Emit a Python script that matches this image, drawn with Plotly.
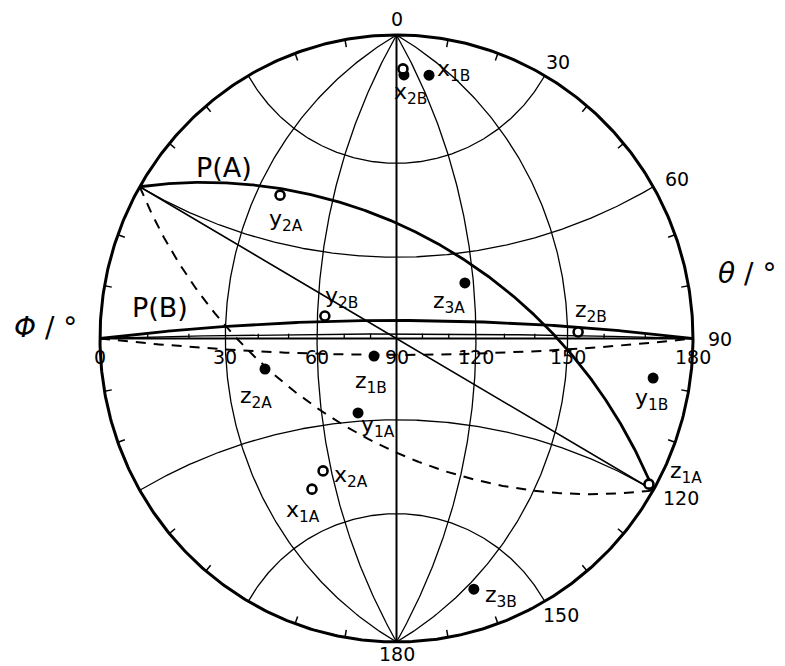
import numpy as np
import plotly.graph_objects as go

# ---------------- data (degrees) ----------------
rim_theta_labels = [0, 30, 60, 90, 120, 150, 180]
equator_phi_labels = [0, 30, 60, 90, 120, 150, 180]
net_phi = [30, 60, 90, 120, 150]
net_theta = [30, 60, 90, 120, 150]

filled_names = ["x1B", "x2B*", "z3A", "z2A", "z1B", "y1A", "y1B", "z3B"]
filled_theta = [10.5, 8.2, 70.3, 99.6, 96.6, 117.1, 98.5, 160.7]
filled_phi = [133.0, 101.6, 116.8, 41.8, 81.3, 74.3, 172.3, 154.4]

open_names = ["x2B", "y2A", "y2B", "z2B", "x2A", "x1A", "z1A"]
open_theta = [6.9, 46.7, 82.0, 88.2, 134.2, 138.4, 119.4]
open_phi = [101.7, 38.4, 62.7, 153.0, 56.5, 49.7, 178.5]

# great circles: common axis (theta, phi) and rotation about that axis
planeA_axis = (60.0, 0.0)
planeA_tilt = 37.6        # P(A)
planeA_dash_tilt = -37.2  # dashed
planeA_line_tilt = 0.0    # straight diameter
planeB_axis = (90.0, 0.0)
planeB_tilt = 6.8         # P(B)
planeB_thin_tilt = 1.7
planeB_dash_tilt = -6.2

# ---------------- geometry (Wulff net, stereographic) ----------------
def vec(theta, phi):
    t, p = np.radians(theta), np.radians(phi)
    return np.array([-np.sin(t) * np.cos(p), np.sin(t) * np.sin(p), np.cos(t)])

def proj(u, v, w):
    return u / (1 + v), w / (1 + v)

def great_circle(axis_tp, tilt, n=500):
    a = vec(*axis_tp)
    e1 = np.array([0.0, 1.0, 0.0])
    e2 = np.array([a[2], 0.0, -a[0]])
    ps = np.radians(tilt)
    b = np.cos(ps) * e1 + np.sin(ps) * e2
    t = np.linspace(0, np.pi, n)
    pts = np.outer(np.cos(t), a) + np.outer(np.sin(t), b)
    return proj(pts[:, 0], pts[:, 1], pts[:, 2])

def meridian(phi, n=300):
    th = np.linspace(0, 180, n)
    p = np.array([vec(t, phi) for t in th])
    return proj(p[:, 0], p[:, 1], p[:, 2])

def parallel(theta, n=300):
    ph = np.linspace(0, 180, n)
    p = np.array([vec(theta, f) for f in ph])
    return proj(p[:, 0], p[:, 1], p[:, 2])

def proj_tp(theta, phi):
    x, y = [], []
    for t, f in zip(theta, phi):
        u, v, w = vec(t, f)
        X, Y = proj(u, v, w)
        x.append(X); y.append(Y)
    return x, y

# pixel mapping (page body has an 8px margin)
OFF = 8
CX, CY, RX, RY = 396.5 - OFF, 338.5 - OFF, 296.5, 303.5
W, H = 785, 666
def px2d(px, py):
    return (px - OFF - CX) / RX, (CY - (py - OFF)) / RY

fig = go.Figure()
BLACK = "black"

def add_line(x, y, width=1.3, dash="solid"):
    fig.add_trace(go.Scatter(x=list(x), y=list(y), mode="lines",
                             line=dict(color=BLACK, width=width, dash=dash),
                             hoverinfo="skip", showlegend=False))

# net: meridians and parallels
for f in net_phi:
    add_line(*meridian(f), width=2.0 if f == 90 else 1.3)
for t in net_theta:
    add_line(*parallel(t), width=2.0 if t == 90 else 1.3)

# rim (primitive circle)
rx0, ry0 = meridian(0)
rx1, ry1 = meridian(180)
add_line(np.concatenate([rx0, rx1[::-1]]), np.concatenate([ry0, ry1[::-1]]), width=3.0)

# rim ticks every 10 deg
tx, ty = [], []
for a in range(0, 360, 10):
    if a % 30 == 0:
        continue
    s, c = np.sin(np.radians(a)), np.cos(np.radians(a))
    tx += [s, s * 0.975, None]
    ty += [c, c * 0.975, None]
fig.add_trace(go.Scatter(x=tx, y=ty, mode="lines", line=dict(color=BLACK, width=1.5),
                         hoverinfo="skip", showlegend=False))

# equator ticks every 10 deg
ex, ey = [], []
for f in range(10, 180, 10):
    if f % 30 == 0:
        continue
    X, Y = proj(*vec(90, f))
    ex += [X, X, None]
    ey += [Y, Y + 0.016, None]
fig.add_trace(go.Scatter(x=ex, y=ey, mode="lines", line=dict(color=BLACK, width=1.3),
                         hoverinfo="skip", showlegend=False))

# planes A
add_line(*great_circle(planeA_axis, planeA_tilt), width=2.8)
add_line(*great_circle(planeA_axis, planeA_line_tilt), width=1.6)
add_line(*great_circle(planeA_axis, planeA_dash_tilt), width=2.0, dash="10px,8px")
# planes B
add_line(*great_circle(planeB_axis, planeB_tilt), width=2.8)
add_line(*great_circle(planeB_axis, planeB_thin_tilt), width=1.4)
add_line(*great_circle(planeB_axis, planeB_dash_tilt), width=2.0, dash="10px,8px")

# points
ox, oy = proj_tp(open_theta, open_phi)
fx, fy = proj_tp(filled_theta, filled_phi)
fig.add_trace(go.Scatter(x=fx, y=fy, mode="markers",
                         marker=dict(size=11, color=BLACK, line=dict(width=0)),
                         text=filled_names, hoverinfo="text", showlegend=False))
fig.add_trace(go.Scatter(x=ox, y=oy, mode="markers",
                         marker=dict(size=9, color="white", line=dict(width=2.6, color=BLACK)),
                         text=open_names, hoverinfo="text", showlegend=False))

FONT = "DejaVu Sans, Liberation Sans, sans-serif"
ann = []
# point labels (pixel offsets: dx right, dy down)
label_offsets = {
    "x1B": (24, -5), "x2B": (8, 25), "y2A": (6, 25), "y2B": (17, -19),
    "z3A": (-16, 20), "z2B": (13, -20), "z2A": (-9, 28), "z1B": (-3, 26),
    "y1A": (20, 14), "x2A": (28, 6), "x1A": (-9, 22), "y1B": (-2, 21),
    "z1A": (37, -12), "z3B": (27, 7),
}
pos = {}
for n, x, y in zip(filled_names, fx, fy):
    pos[n] = (x, y)
for n, x, y in zip(open_names, ox, oy):
    pos[n] = (x, y)
for n, (dx, dy) in label_offsets.items():
    x, y = pos[n]
    ann.append(dict(x=x, y=y, xref="x", yref="y", xshift=dx, yshift=-dy,
                    text=f"{n[0]}<sub>{n[1:]}</sub>", showarrow=False,
                    font=dict(family=FONT, size=22, color=BLACK)))

# rim theta labels
for t in rim_theta_labels:
    a = np.radians(t)
    s, c = np.sin(a), np.cos(a)
    nch = len(str(t))
    dx = s * 16 + s * nch * 5.5
    dy = c * 16 if t != 180 else -12
    ann.append(dict(x=s, y=c, xref="x", yref="y", xshift=dx, yshift=dy,
                    text=str(t), showarrow=False,
                    font=dict(family=FONT, size=19, color=BLACK)))

# equator phi labels
for f in equator_phi_labels:
    X, Y = proj(*vec(90, f))
    ann.append(dict(x=X, y=Y, xref="x", yref="y", yshift=-18,
                    text=str(f), showarrow=False,
                    font=dict(family=FONT, size=19, color=BLACK)))

# plane labels
for txt, (px, py) in [("P(A)", (224, 167)), ("P(B)", (160, 307))]:
    x, y = px2d(px, py)
    ann.append(dict(x=x, y=y, xref="x", yref="y", text=txt, showarrow=False,
                    font=dict(family=FONT, size=27, color=BLACK)))

# axis names
x, y = px2d(45, 327)
ann.append(dict(x=x, y=y, xref="x", yref="y", text="<i>Φ</i> / °", showarrow=False,
                font=dict(family=FONT, size=28, color=BLACK)))
x, y = px2d(716, 273)
ann.append(dict(x=x, y=y, xref="x", yref="y", text="<i>θ</i> / °", showarrow=False,
                xanchor="left", font=dict(family=FONT, size=28, color=BLACK)))

fig.update_layout(
    width=W, height=H, margin=dict(l=0, r=0, t=0, b=0),
    paper_bgcolor="white", plot_bgcolor="white",
    xaxis=dict(range=[(0 - CX) / RX, (W - CX) / RX], visible=False, fixedrange=True),
    yaxis=dict(range=[(CY - H) / RY, CY / RY], visible=False, fixedrange=True),
    annotations=ann, showlegend=False,
)
fig.write_html("out.html")
